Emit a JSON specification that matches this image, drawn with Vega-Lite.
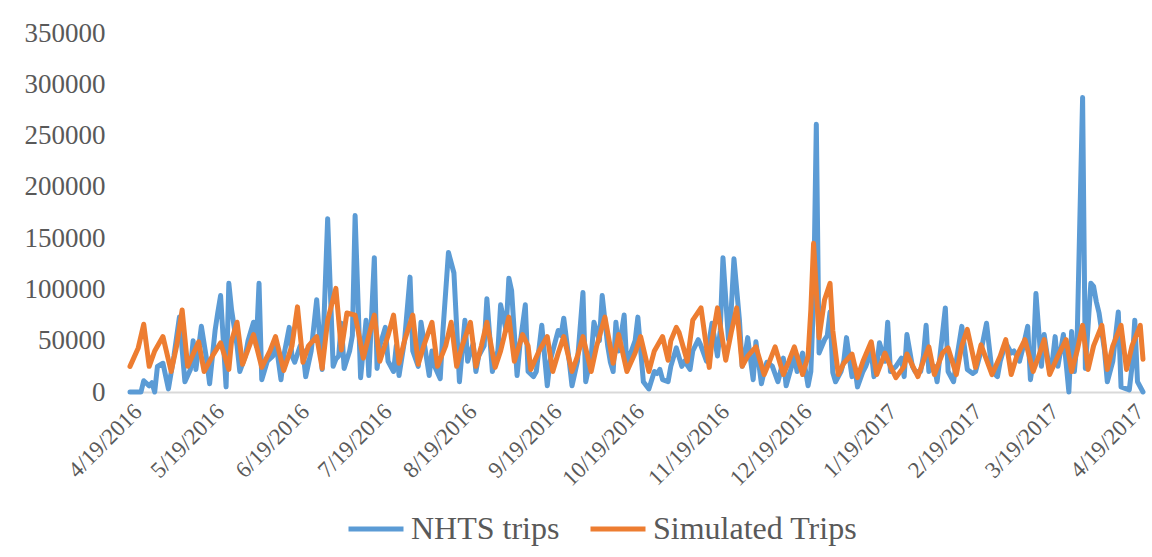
{
  "$schema": "https://vega.github.io/schema/vega-lite/v6.json",
  "autosize": {"type": "none"},
  "width": 1013,
  "height": 359,
  "padding": {"left": 130, "top": 33, "right": 9, "bottom": 165},
  "background": "white",
  "config": {
    "font": "Liberation Serif",
    "view": {"stroke": null},
    "axis": {"labelColor": "#595959", "titleColor": "#595959"}
  },
  "layer": [
    {
      "data": {
        "values": [
          {"d": "2016-04-19", "v": 0}, {"d": "2016-04-23", "v": 0}, {"d": "2016-04-24", "v": 11000}, {"d": "2016-04-26", "v": 6000},
          {"d": "2016-04-27", "v": 9000}, {"d": "2016-04-28", "v": 0}, {"d": "2016-04-29", "v": 25000}, {"d": "2016-05-01", "v": 28000},
          {"d": "2016-05-03", "v": 3000}, {"d": "2016-05-05", "v": 35000}, {"d": "2016-05-07", "v": 73000}, {"d": "2016-05-09", "v": 10000},
          {"d": "2016-05-11", "v": 22000}, {"d": "2016-05-12", "v": 50000}, {"d": "2016-05-13", "v": 22000}, {"d": "2016-05-15", "v": 64000},
          {"d": "2016-05-17", "v": 30000}, {"d": "2016-05-18", "v": 8000}, {"d": "2016-05-20", "v": 60000}, {"d": "2016-05-21", "v": 78000},
          {"d": "2016-05-22", "v": 94000}, {"d": "2016-05-24", "v": 5000}, {"d": "2016-05-25", "v": 106000}, {"d": "2016-05-26", "v": 80000},
          {"d": "2016-05-28", "v": 45000}, {"d": "2016-05-29", "v": 20000}, {"d": "2016-05-31", "v": 35000}, {"d": "2016-06-01", "v": 50000},
          {"d": "2016-06-03", "v": 68000}, {"d": "2016-06-04", "v": 45000}, {"d": "2016-06-05", "v": 106000}, {"d": "2016-06-06", "v": 12000},
          {"d": "2016-06-08", "v": 30000}, {"d": "2016-06-10", "v": 35000}, {"d": "2016-06-11", "v": 51000}, {"d": "2016-06-13", "v": 12000},
          {"d": "2016-06-14", "v": 35000}, {"d": "2016-06-16", "v": 63000}, {"d": "2016-06-17", "v": 35000}, {"d": "2016-06-18", "v": 29000},
          {"d": "2016-06-20", "v": 45000}, {"d": "2016-06-21", "v": 40000}, {"d": "2016-06-22", "v": 15000}, {"d": "2016-06-24", "v": 40000},
          {"d": "2016-06-26", "v": 90000}, {"d": "2016-06-28", "v": 22000}, {"d": "2016-06-30", "v": 169000}, {"d": "2016-07-02", "v": 25000},
          {"d": "2016-07-03", "v": 32000}, {"d": "2016-07-04", "v": 35000}, {"d": "2016-07-05", "v": 67000}, {"d": "2016-07-06", "v": 23000},
          {"d": "2016-07-08", "v": 40000}, {"d": "2016-07-09", "v": 55000}, {"d": "2016-07-10", "v": 172000}, {"d": "2016-07-12", "v": 14000},
          {"d": "2016-07-14", "v": 70000}, {"d": "2016-07-15", "v": 16000}, {"d": "2016-07-17", "v": 131000}, {"d": "2016-07-18", "v": 23000},
          {"d": "2016-07-19", "v": 45000}, {"d": "2016-07-21", "v": 63000}, {"d": "2016-07-22", "v": 30000}, {"d": "2016-07-24", "v": 20000},
          {"d": "2016-07-25", "v": 45000}, {"d": "2016-07-26", "v": 16000}, {"d": "2016-07-28", "v": 50000}, {"d": "2016-07-30", "v": 112000},
          {"d": "2016-07-31", "v": 40000}, {"d": "2016-08-02", "v": 25000}, {"d": "2016-08-03", "v": 68000}, {"d": "2016-08-06", "v": 16000},
          {"d": "2016-08-07", "v": 40000}, {"d": "2016-08-08", "v": 25000}, {"d": "2016-08-10", "v": 13000}, {"d": "2016-08-11", "v": 60000},
          {"d": "2016-08-13", "v": 136000}, {"d": "2016-08-15", "v": 116000}, {"d": "2016-08-17", "v": 10000}, {"d": "2016-08-18", "v": 40000},
          {"d": "2016-08-19", "v": 70000}, {"d": "2016-08-20", "v": 30000}, {"d": "2016-08-22", "v": 47000}, {"d": "2016-08-23", "v": 20000},
          {"d": "2016-08-24", "v": 35000}, {"d": "2016-08-26", "v": 45000}, {"d": "2016-08-27", "v": 91000}, {"d": "2016-08-29", "v": 20000},
          {"d": "2016-08-31", "v": 40000}, {"d": "2016-09-01", "v": 85000}, {"d": "2016-09-03", "v": 60000}, {"d": "2016-09-04", "v": 111000},
          {"d": "2016-09-05", "v": 99000}, {"d": "2016-09-07", "v": 16000}, {"d": "2016-09-08", "v": 45000}, {"d": "2016-09-10", "v": 85000},
          {"d": "2016-09-11", "v": 20000}, {"d": "2016-09-13", "v": 15000}, {"d": "2016-09-14", "v": 20000}, {"d": "2016-09-16", "v": 65000},
          {"d": "2016-09-18", "v": 6000}, {"d": "2016-09-19", "v": 30000}, {"d": "2016-09-21", "v": 50000}, {"d": "2016-09-22", "v": 60000},
          {"d": "2016-09-23", "v": 55000}, {"d": "2016-09-24", "v": 72000}, {"d": "2016-09-26", "v": 30000}, {"d": "2016-09-27", "v": 6000},
          {"d": "2016-09-29", "v": 30000}, {"d": "2016-10-01", "v": 97000}, {"d": "2016-10-02", "v": 10000}, {"d": "2016-10-04", "v": 35000},
          {"d": "2016-10-05", "v": 68000}, {"d": "2016-10-07", "v": 50000}, {"d": "2016-10-08", "v": 94000}, {"d": "2016-10-10", "v": 45000},
          {"d": "2016-10-11", "v": 29000}, {"d": "2016-10-12", "v": 20000}, {"d": "2016-10-13", "v": 68000}, {"d": "2016-10-14", "v": 40000},
          {"d": "2016-10-16", "v": 75000}, {"d": "2016-10-17", "v": 25000}, {"d": "2016-10-18", "v": 35000}, {"d": "2016-10-20", "v": 50000},
          {"d": "2016-10-21", "v": 73000}, {"d": "2016-10-23", "v": 10000}, {"d": "2016-10-25", "v": 3000}, {"d": "2016-10-27", "v": 20000},
          {"d": "2016-10-28", "v": 18000}, {"d": "2016-10-29", "v": 22000}, {"d": "2016-10-30", "v": 12000}, {"d": "2016-11-01", "v": 10000},
          {"d": "2016-11-02", "v": 25000}, {"d": "2016-11-04", "v": 43000}, {"d": "2016-11-06", "v": 25000}, {"d": "2016-11-07", "v": 30000},
          {"d": "2016-11-09", "v": 22000}, {"d": "2016-11-10", "v": 40000}, {"d": "2016-11-12", "v": 51000}, {"d": "2016-11-13", "v": 45000},
          {"d": "2016-11-15", "v": 30000}, {"d": "2016-11-16", "v": 50000}, {"d": "2016-11-17", "v": 67000}, {"d": "2016-11-19", "v": 35000},
          {"d": "2016-11-20", "v": 60000}, {"d": "2016-11-21", "v": 131000}, {"d": "2016-11-23", "v": 51000}, {"d": "2016-11-24", "v": 80000},
          {"d": "2016-11-25", "v": 130000}, {"d": "2016-11-27", "v": 70000}, {"d": "2016-11-28", "v": 25000}, {"d": "2016-11-29", "v": 35000},
          {"d": "2016-11-30", "v": 53000}, {"d": "2016-12-02", "v": 12000}, {"d": "2016-12-03", "v": 49000}, {"d": "2016-12-05", "v": 8000},
          {"d": "2016-12-06", "v": 20000}, {"d": "2016-12-07", "v": 29000}, {"d": "2016-12-09", "v": 25000}, {"d": "2016-12-11", "v": 10000},
          {"d": "2016-12-12", "v": 20000}, {"d": "2016-12-13", "v": 33000}, {"d": "2016-12-14", "v": 6000}, {"d": "2016-12-16", "v": 25000},
          {"d": "2016-12-17", "v": 35000}, {"d": "2016-12-18", "v": 20000}, {"d": "2016-12-20", "v": 38000}, {"d": "2016-12-22", "v": 6000},
          {"d": "2016-12-23", "v": 20000}, {"d": "2016-12-24", "v": 90000}, {"d": "2016-12-25", "v": 261000}, {"d": "2016-12-26", "v": 38000},
          {"d": "2016-12-28", "v": 51000}, {"d": "2016-12-29", "v": 55000}, {"d": "2016-12-30", "v": 78000}, {"d": "2016-12-31", "v": 19000},
          {"d": "2017-01-01", "v": 10000}, {"d": "2017-01-03", "v": 20000}, {"d": "2017-01-04", "v": 30000}, {"d": "2017-01-05", "v": 53000},
          {"d": "2017-01-07", "v": 15000}, {"d": "2017-01-08", "v": 25000}, {"d": "2017-01-09", "v": 5000}, {"d": "2017-01-11", "v": 20000},
          {"d": "2017-01-12", "v": 25000}, {"d": "2017-01-14", "v": 40000}, {"d": "2017-01-15", "v": 15000}, {"d": "2017-01-16", "v": 25000},
          {"d": "2017-01-17", "v": 48000}, {"d": "2017-01-19", "v": 30000}, {"d": "2017-01-20", "v": 68000}, {"d": "2017-01-21", "v": 20000},
          {"d": "2017-01-23", "v": 25000}, {"d": "2017-01-25", "v": 33000}, {"d": "2017-01-26", "v": 15000}, {"d": "2017-01-27", "v": 56000},
          {"d": "2017-01-29", "v": 25000}, {"d": "2017-01-30", "v": 20000}, {"d": "2017-02-01", "v": 20000}, {"d": "2017-02-02", "v": 35000},
          {"d": "2017-02-03", "v": 65000}, {"d": "2017-02-04", "v": 20000}, {"d": "2017-02-06", "v": 25000}, {"d": "2017-02-07", "v": 10000},
          {"d": "2017-02-10", "v": 82000}, {"d": "2017-02-11", "v": 20000}, {"d": "2017-02-13", "v": 10000}, {"d": "2017-02-14", "v": 30000},
          {"d": "2017-02-16", "v": 64000}, {"d": "2017-02-18", "v": 22000}, {"d": "2017-02-20", "v": 18000}, {"d": "2017-02-21", "v": 20000},
          {"d": "2017-02-23", "v": 40000}, {"d": "2017-02-25", "v": 67000}, {"d": "2017-02-27", "v": 20000}, {"d": "2017-03-01", "v": 15000},
          {"d": "2017-03-02", "v": 30000}, {"d": "2017-03-04", "v": 48000}, {"d": "2017-03-06", "v": 38000}, {"d": "2017-03-07", "v": 40000},
          {"d": "2017-03-09", "v": 30000}, {"d": "2017-03-10", "v": 40000}, {"d": "2017-03-12", "v": 64000}, {"d": "2017-03-13", "v": 12000},
          {"d": "2017-03-14", "v": 30000}, {"d": "2017-03-15", "v": 96000}, {"d": "2017-03-17", "v": 25000}, {"d": "2017-03-18", "v": 56000},
          {"d": "2017-03-20", "v": 20000}, {"d": "2017-03-21", "v": 30000}, {"d": "2017-03-22", "v": 54000}, {"d": "2017-03-23", "v": 25000},
          {"d": "2017-03-25", "v": 56000}, {"d": "2017-03-27", "v": 0}, {"d": "2017-03-28", "v": 59000}, {"d": "2017-03-29", "v": 20000},
          {"d": "2017-03-30", "v": 50000}, {"d": "2017-04-01", "v": 287000}, {"d": "2017-04-02", "v": 23000}, {"d": "2017-04-04", "v": 106000},
          {"d": "2017-04-05", "v": 103000}, {"d": "2017-04-06", "v": 88000}, {"d": "2017-04-07", "v": 77000}, {"d": "2017-04-09", "v": 40000},
          {"d": "2017-04-10", "v": 10000}, {"d": "2017-04-11", "v": 20000}, {"d": "2017-04-12", "v": 30000}, {"d": "2017-04-14", "v": 78000},
          {"d": "2017-04-15", "v": 5000}, {"d": "2017-04-18", "v": 2000}, {"d": "2017-04-19", "v": 25000}, {"d": "2017-04-20", "v": 70000},
          {"d": "2017-04-21", "v": 10000}, {"d": "2017-04-23", "v": 0}
        ],
        "format": {"parse": {"d": "date:'%Y-%m-%d'"}}
      },
      "mark": {"type": "line", "strokeWidth": 5, "strokeJoin": "round", "strokeCap": "round"},
      "encoding": {
        "x": {"field": "d", "type": "temporal"},
        "y": {"field": "v", "type": "quantitative"},
        "color": {"datum": "NHTS trips"}
      }
    },
    {
      "data": {
        "values": [
          {"d": "2016-04-19", "v": 25000}, {"d": "2016-04-22", "v": 43000}, {"d": "2016-04-24", "v": 66000}, {"d": "2016-04-26", "v": 25000},
          {"d": "2016-04-28", "v": 40000}, {"d": "2016-05-01", "v": 54000}, {"d": "2016-05-04", "v": 20000}, {"d": "2016-05-06", "v": 45000},
          {"d": "2016-05-08", "v": 80000}, {"d": "2016-05-10", "v": 25000}, {"d": "2016-05-13", "v": 43000}, {"d": "2016-05-14", "v": 49000},
          {"d": "2016-05-16", "v": 20000}, {"d": "2016-05-19", "v": 35000}, {"d": "2016-05-22", "v": 48000}, {"d": "2016-05-25", "v": 22000},
          {"d": "2016-05-26", "v": 50000}, {"d": "2016-05-28", "v": 68000}, {"d": "2016-05-30", "v": 27000}, {"d": "2016-06-03", "v": 56000},
          {"d": "2016-06-06", "v": 24000}, {"d": "2016-06-09", "v": 40000}, {"d": "2016-06-11", "v": 54000}, {"d": "2016-06-14", "v": 21000},
          {"d": "2016-06-17", "v": 45000}, {"d": "2016-06-19", "v": 83000}, {"d": "2016-06-21", "v": 29000}, {"d": "2016-06-23", "v": 45000},
          {"d": "2016-06-26", "v": 54000}, {"d": "2016-06-28", "v": 23000}, {"d": "2016-06-30", "v": 70000}, {"d": "2016-07-03", "v": 101000},
          {"d": "2016-07-05", "v": 41000}, {"d": "2016-07-07", "v": 77000}, {"d": "2016-07-10", "v": 75000}, {"d": "2016-07-13", "v": 33000},
          {"d": "2016-07-15", "v": 55000}, {"d": "2016-07-17", "v": 75000}, {"d": "2016-07-19", "v": 30000}, {"d": "2016-07-22", "v": 55000},
          {"d": "2016-07-24", "v": 75000}, {"d": "2016-07-26", "v": 28000}, {"d": "2016-07-28", "v": 50000}, {"d": "2016-07-31", "v": 75000},
          {"d": "2016-08-02", "v": 27000}, {"d": "2016-08-04", "v": 45000}, {"d": "2016-08-07", "v": 68000}, {"d": "2016-08-09", "v": 25000},
          {"d": "2016-08-12", "v": 45000}, {"d": "2016-08-14", "v": 68000}, {"d": "2016-08-16", "v": 25000}, {"d": "2016-08-18", "v": 45000},
          {"d": "2016-08-21", "v": 68000}, {"d": "2016-08-23", "v": 25000}, {"d": "2016-08-25", "v": 45000}, {"d": "2016-08-27", "v": 68000},
          {"d": "2016-08-30", "v": 24000}, {"d": "2016-09-01", "v": 40000}, {"d": "2016-09-04", "v": 73000}, {"d": "2016-09-06", "v": 30000},
          {"d": "2016-09-09", "v": 56000}, {"d": "2016-09-11", "v": 45000}, {"d": "2016-09-12", "v": 22000}, {"d": "2016-09-15", "v": 40000},
          {"d": "2016-09-18", "v": 54000}, {"d": "2016-09-20", "v": 20000}, {"d": "2016-09-22", "v": 38000}, {"d": "2016-09-24", "v": 54000},
          {"d": "2016-09-27", "v": 20000}, {"d": "2016-09-29", "v": 35000}, {"d": "2016-10-01", "v": 54000}, {"d": "2016-10-04", "v": 20000},
          {"d": "2016-10-06", "v": 45000}, {"d": "2016-10-09", "v": 73000}, {"d": "2016-10-12", "v": 28000}, {"d": "2016-10-14", "v": 56000},
          {"d": "2016-10-17", "v": 20000}, {"d": "2016-10-20", "v": 38000}, {"d": "2016-10-22", "v": 54000}, {"d": "2016-10-25", "v": 20000},
          {"d": "2016-10-27", "v": 40000}, {"d": "2016-10-30", "v": 54000}, {"d": "2016-11-01", "v": 31000}, {"d": "2016-11-02", "v": 50000},
          {"d": "2016-11-04", "v": 63000}, {"d": "2016-11-05", "v": 58000}, {"d": "2016-11-08", "v": 30000}, {"d": "2016-11-10", "v": 70000},
          {"d": "2016-11-13", "v": 82000}, {"d": "2016-11-16", "v": 24000}, {"d": "2016-11-17", "v": 50000}, {"d": "2016-11-19", "v": 82000},
          {"d": "2016-11-22", "v": 31000}, {"d": "2016-11-24", "v": 58000}, {"d": "2016-11-26", "v": 82000}, {"d": "2016-11-28", "v": 25000},
          {"d": "2016-11-30", "v": 35000}, {"d": "2016-12-03", "v": 44000}, {"d": "2016-12-06", "v": 17000}, {"d": "2016-12-08", "v": 30000},
          {"d": "2016-12-10", "v": 44000}, {"d": "2016-12-13", "v": 17000}, {"d": "2016-12-15", "v": 30000}, {"d": "2016-12-17", "v": 44000},
          {"d": "2016-12-20", "v": 17000}, {"d": "2016-12-22", "v": 35000}, {"d": "2016-12-23", "v": 80000}, {"d": "2016-12-24", "v": 145000},
          {"d": "2016-12-26", "v": 53000}, {"d": "2016-12-28", "v": 90000}, {"d": "2016-12-30", "v": 106000}, {"d": "2016-12-31", "v": 60000},
          {"d": "2017-01-02", "v": 17000}, {"d": "2017-01-04", "v": 28000}, {"d": "2017-01-07", "v": 37000}, {"d": "2017-01-09", "v": 14000},
          {"d": "2017-01-11", "v": 30000}, {"d": "2017-01-14", "v": 49000}, {"d": "2017-01-16", "v": 17000}, {"d": "2017-01-19", "v": 38000},
          {"d": "2017-01-21", "v": 25000}, {"d": "2017-01-23", "v": 14000}, {"d": "2017-01-26", "v": 25000}, {"d": "2017-01-27", "v": 37000},
          {"d": "2017-01-31", "v": 15000}, {"d": "2017-02-02", "v": 30000}, {"d": "2017-02-04", "v": 44000}, {"d": "2017-02-06", "v": 17000},
          {"d": "2017-02-09", "v": 38000}, {"d": "2017-02-11", "v": 43000}, {"d": "2017-02-14", "v": 17000}, {"d": "2017-02-16", "v": 45000},
          {"d": "2017-02-18", "v": 61000}, {"d": "2017-02-21", "v": 24000}, {"d": "2017-02-23", "v": 46000}, {"d": "2017-02-27", "v": 17000},
          {"d": "2017-03-02", "v": 35000}, {"d": "2017-03-04", "v": 51000}, {"d": "2017-03-06", "v": 17000}, {"d": "2017-03-08", "v": 35000},
          {"d": "2017-03-11", "v": 51000}, {"d": "2017-03-14", "v": 20000}, {"d": "2017-03-16", "v": 35000}, {"d": "2017-03-18", "v": 51000},
          {"d": "2017-03-20", "v": 17000}, {"d": "2017-03-23", "v": 35000}, {"d": "2017-03-26", "v": 51000}, {"d": "2017-03-28", "v": 20000},
          {"d": "2017-03-30", "v": 40000}, {"d": "2017-04-01", "v": 65000}, {"d": "2017-04-03", "v": 22000}, {"d": "2017-04-05", "v": 45000},
          {"d": "2017-04-08", "v": 65000}, {"d": "2017-04-10", "v": 22000}, {"d": "2017-04-12", "v": 45000}, {"d": "2017-04-15", "v": 65000},
          {"d": "2017-04-17", "v": 22000}, {"d": "2017-04-19", "v": 45000}, {"d": "2017-04-22", "v": 65000}, {"d": "2017-04-23", "v": 32000}
        ],
        "format": {"parse": {"d": "date:'%Y-%m-%d'"}}
      },
      "mark": {"type": "line", "strokeWidth": 5, "strokeJoin": "round", "strokeCap": "round"},
      "encoding": {
        "x": {"field": "d", "type": "temporal"},
        "y": {"field": "v", "type": "quantitative"},
        "color": {"datum": "Simulated Trips"}
      }
    }
  ],
  "resolve": {"scale": {"x": "shared", "y": "shared", "color": "shared"}},
  "encoding": {
    "x": {
      "field": "d",
      "type": "temporal",
      "scale": {"domain": [{"year": 2016, "month": 4, "date": 19}, {"year": 2017, "month": 4, "date": 23}], "nice": false},
      "axis": {
        "title": null,
        "values": [
          {"year": 2016, "month": 4, "date": 19}, {"year": 2016, "month": 5, "date": 19}, {"year": 2016, "month": 6, "date": 19},
          {"year": 2016, "month": 7, "date": 19}, {"year": 2016, "month": 8, "date": 19}, {"year": 2016, "month": 9, "date": 19},
          {"year": 2016, "month": 10, "date": 19}, {"year": 2016, "month": 11, "date": 19}, {"year": 2016, "month": 12, "date": 19},
          {"year": 2017, "month": 1, "date": 19}, {"year": 2017, "month": 2, "date": 19}, {"year": 2017, "month": 3, "date": 19},
          {"year": 2017, "month": 4, "date": 19}
        ],
        "format": "%-m/%-d/%Y",
        "labelAngle": -45,
        "labelFontSize": 23,
        "labelPadding": 8,
        "labelOverlap": false,
        "labelFlush": false,
        "ticks": false,
        "grid": false,
        "domainColor": "#d9d9d9",
        "domainWidth": 2
      }
    },
    "y": {
      "field": "v",
      "type": "quantitative",
      "scale": {"domain": [0, 350000], "nice": false},
      "axis": {
        "title": null,
        "values": [0, 50000, 100000, 150000, 200000, 250000, 300000, 350000],
        "format": "d",
        "labelFontSize": 27,
        "labelPadding": 25,
        "ticks": false,
        "domain": false,
        "grid": false
      }
    },
    "color": {
      "type": "nominal",
      "scale": {"domain": ["NHTS trips", "Simulated Trips"], "range": ["#5b9bd5", "#ed7d31"]},
      "legend": {
        "title": null,
        "orient": "none",
        "direction": "horizontal",
        "legendX": 216,
        "legendY": 466,
        "symbolType": "stroke",
        "symbolSize": 3025,
        "symbolStrokeWidth": 5,
        "labelFontSize": 32,
        "labelColor": "#595959",
        "labelOffset": 5,
        "columnPadding": 20,
        "labelLimit": 400
      }
    }
  }
}
